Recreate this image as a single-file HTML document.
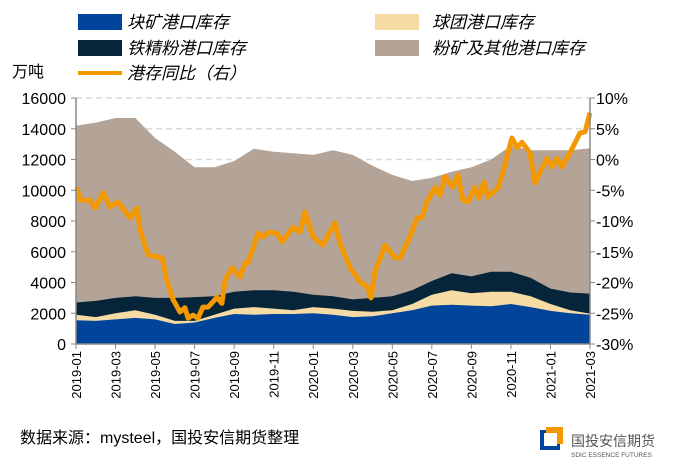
<!DOCTYPE html>
<html><head><meta charset="utf-8"><style>
body{margin:0;background:#fff;width:681px;height:468px;overflow:hidden;font-family:"Liberation Sans","Noto Sans CJK SC",sans-serif}
svg text{font-family:"Liberation Sans","Noto Sans CJK SC",sans-serif}
</style></head><body>
<svg id="c" width="681" height="468">
<g id="legend" font-size="17" font-style="italic" fill="#000">
 <g><rect x="78" y="14" width="44" height="16" fill="#00449b"/><text x="127" y="28">块矿港口库存</text></g>
 <g><rect x="375" y="14" width="44" height="16" fill="#f7dba4"/><text x="432" y="28">球团港口库存</text></g>
 <g><rect x="78" y="40" width="44" height="16" fill="#07253a"/><text x="127" y="54">铁精粉港口库存</text></g>
 <g><rect x="375" y="40" width="44" height="16" fill="#b4a497"/><text x="432" y="54">粉矿及其他港口库存</text></g>
 <g><line x1="78" y1="73" x2="122" y2="73" stroke="#f39800" stroke-width="4"/><text x="127" y="79">港存同比（右）</text></g>
</g>
<text x="12" y="77" font-size="16">万吨</text>
<g id="plot"></g>
<text x="20" y="443" font-size="16">数据来源：mysteel，国投安信期货整理</text>
<g>
 <rect x="540" y="430" width="20" height="20" fill="#00449b"/>
 <rect x="546" y="427" width="17" height="17" fill="#f39800"/>
 <rect x="544" y="433" width="13" height="13" fill="#fff"/>
 <text x="571" y="446" font-size="14" fill="#555">国投安信期货</text>
 <text x="571" y="457" font-size="6.5" fill="#555">SDIC ESSENCE FUTURES</text>
</g>
</svg>
<script>
const monthLabels=["2019-01","2019-03","2019-05","2019-07","2019-09","2019-11","2020-01","2020-03","2020-05","2020-07","2020-09","2020-11","2021-01","2021-03"];
const leftTicks=[0,2000,4000,6000,8000,10000,12000,14000,16000];
const rightTicks=[-30,-25,-20,-15,-10,-5,0,5,10];
const stackMonths=[0,1,2,3,4,5,6,7,8,9,10,11,12,13,14,15,16,17,18,19,20,21,22,23,24,25,26];
const lumpOre=[1550,1500,1600,1700,1600,1300,1400,1700,1950,1900,1950,1950,2000,1900,1750,1800,2000,2200,2500,2550,2500,2450,2600,2400,2150,2000,1900];
const pellet=[350,250,400,500,300,200,100,200,350,500,350,250,400,400,400,300,200,400,700,950,800,950,800,700,450,200,80];
const concentrate=[800,1050,1000,900,1100,1500,1550,1200,1100,1100,1200,1200,800,800,750,900,900,900,900,1100,1100,1300,1300,1200,1000,1150,1300];
const finesOther=[11500,11600,11700,11600,10400,9500,8450,8400,8500,9200,9000,9000,9100,9500,9400,8600,7900,7100,6700,6600,7100,7300,8200,8300,9000,9250,9450];
const yoyMonths=[0.05,0.2,0.71,0.96,1.37,1.72,2.12,2.73,3.09,3.24,3.64,4.35,4.6,4.91,5.26,5.51,5.67,5.92,6.17,6.42,6.68,7.13,7.38,7.54,7.89,8.3,8.55,8.7,9.21,9.46,9.71,10.17,10.42,10.98,11.33,11.58,11.99,12.49,13.1,13.35,13.86,14.37,14.72,14.92,15.12,15.63,16.14,16.39,16.89,17.25,17.5,17.75,18.16,18.41,18.66,19.07,19.32,19.57,19.83,20.18,20.38,20.64,20.84,21.35,21.6,22.05,22.31,22.56,22.96,23.22,23.82,24.08,24.33,24.58,24.99,25.49,25.75,26];
const yoyValues=[-4.5,-6.6,-6.6,-7.9,-5.4,-7.7,-6.9,-9.5,-7.9,-11.5,-15.5,-16,-19.6,-22.8,-24.8,-24.1,-25.8,-25.3,-25.8,-24,-24,-22.4,-23.4,-19.6,-17.6,-19.1,-16.8,-16.8,-12,-12.6,-11.8,-12,-13.4,-11,-11.8,-8.5,-12.6,-13.9,-10.3,-13.6,-17.6,-19.9,-20.7,-22.5,-18.3,-13.9,-16,-16,-12.6,-9.5,-9.5,-6.9,-4.6,-5.8,-2.8,-4.5,-2.5,-6.6,-6.9,-4.5,-6.3,-3.7,-6.1,-4.6,-2,3.5,1.9,2.8,1.1,-3.8,0.2,-1.2,0.2,-1.2,1.1,4.3,4.5,7.6];

const X0=76,X1=590,Y0=344,Y1=98;
const xs=m=>X0+m*(X1-X0)/26;
const yl=v=>Y0-v*(Y0-Y1)/16000;
const yr=v=>Y0-(v+30)*(Y0-Y1)/40;
const NS="http://www.w3.org/2000/svg";
const plot=document.getElementById('plot');
function mk(tag,attrs,parent){const e=document.createElementNS(NS,tag);for(const k in attrs)e.setAttribute(k,attrs[k]);(parent||plot).appendChild(e);return e;}

leftTicks.forEach(t=>{if(t>0){const g=mk('line',{x1:X0,x2:X1,y1:yl(t),y2:yl(t),stroke:'#d9d9d9','stroke-width':1.5,'stroke-dasharray':'6,4'});

}});

const series=[lumpOre,pellet,concentrate,finesOther];
const colors=['#00449b','#f7dba4','#07253a','#b4a497'];
const names=['area-lump-ore','area-pellet','area-concentrate','area-fines-other'];
const cum=[];let acc=stackMonths.map(()=>0);
series.forEach(arr=>{acc=acc.map((v,i)=>v+arr[i]);cum.push(acc.slice());});
for(let s=3;s>=0;s--){
 let d='M'+xs(stackMonths[0])+','+Y0;
 stackMonths.forEach((m,i)=>{d+=' L'+xs(m).toFixed(1)+','+yl(cum[s][i]).toFixed(1);});
 d+=' L'+xs(stackMonths[stackMonths.length-1])+','+Y0+' Z';
 const p=mk('path',{d:d,fill:colors[s]});
 
 
}
let ld='';yoyMonths.forEach((m,i)=>{ld+=(i?' L':'M')+xs(m).toFixed(1)+','+yr(yoyValues[i]).toFixed(1);});
const ln=mk('path',{d:ld,fill:'none',stroke:'#f39800','stroke-width':5,'stroke-linejoin':'round'});



const ax=mk('line',{x1:X0,x2:X0,y1:Y1,y2:Y0,stroke:'#888','stroke-width':1.5});


const ax2=mk('line',{x1:X1,x2:X1,y1:Y1,y2:Y0,stroke:'#888','stroke-width':1.5});


const ax3=mk('line',{x1:X0,x2:X1,y1:Y0,y2:Y0,stroke:'#888','stroke-width':1.5});



leftTicks.forEach(t=>{mk('line',{x1:X0-5,x2:X0,y1:yl(t),y2:yl(t),stroke:'#888'});
 const tx=mk('text',{x:X0-10,y:yl(t)+6,'text-anchor':'end','font-size':16});tx.textContent=t;
 
 });
rightTicks.forEach(t=>{mk('line',{x1:X1,x2:X1+5,y1:yr(t),y2:yr(t),stroke:'#888'});
 const tx=mk('text',{x:X1+6,y:yr(t)+6,'font-size':16});tx.textContent=t+'%';
 
 });
monthLabels.forEach((l,i)=>{const x=xs(i*2);
 mk('line',{x1:x,x2:x,y1:Y0,y2:Y0+5,stroke:'#888'});
 const tx=mk('text',{x:0,y:0,'text-anchor':'end','font-size':13,transform:`translate(${x+5},${Y0+7}) rotate(-90)`});tx.textContent=l;
 
 });
</script>
</body></html>
